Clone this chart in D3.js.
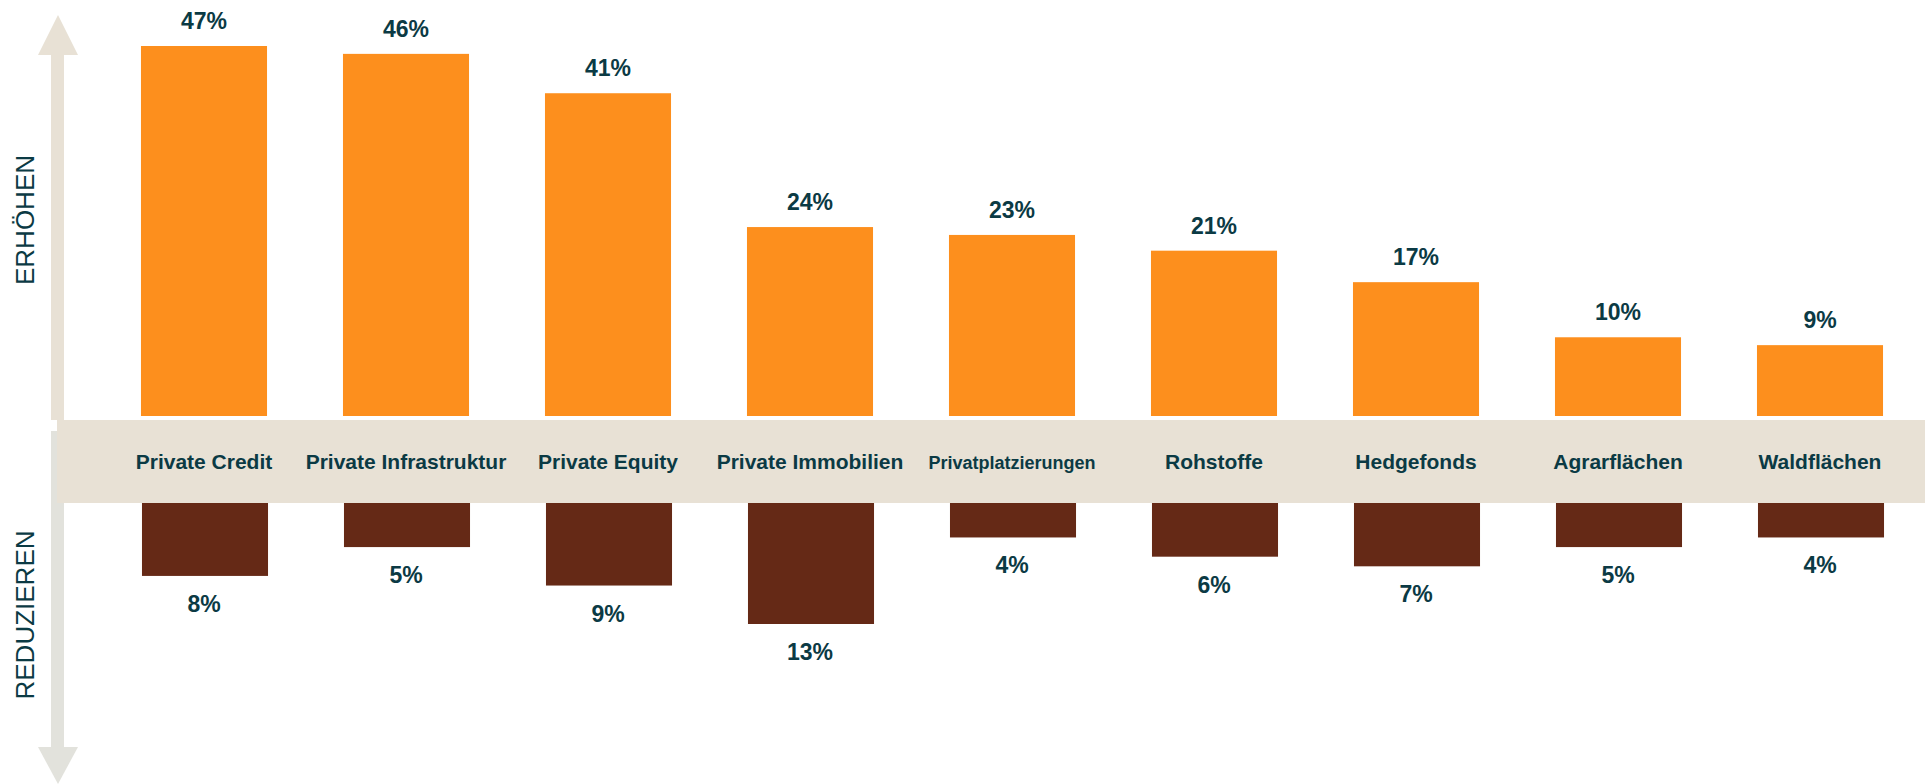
<!DOCTYPE html>
<html>
<head>
<meta charset="utf-8">
<script src="https://cdn.jsdelivr.net/npm/d3@7"></script>
<style>
  body { margin: 0; background: #ffffff; }
</style>
</head>
<body>
<div id="chart"></div>
<script>
// data
const categories = ["Private Credit", "Private Infrastruktur", "Private Equity", "Private Immobilien",
    "Privatplatzierungen", "Rohstoffe", "Hedgefonds", "Agrarflächen", "Waldflächen"];
const erhoehen = [47, 46, 41, 24, 23, 21, 17, 10, 9];
const reduzieren = [8, 5, 9, 13, 4, 6, 7, 5, 4];
const axisLabels = ["ERHÖHEN", "REDUZIEREN"];

const width = 1925, height = 784;
const font = "'Liberation Sans', Arial, Helvetica, sans-serif";
const textColor = "#0b3a44";

const data = categories.map(function(c, i) {
    return {name: c, up: erhoehen[i], down: reduzieren[i]};
});

const svg = d3.select("#chart")
    .append("svg")
        .attr("width", width)
        .attr("height", height);

// x positions of the bars
const xScale = d3.scaleBand()
    .domain(categories)
    .range([103, 1921])
    .paddingInner(0.376)
    .paddingOuter(0.188);

// the upper and lower halves use their own scales
const yUp = d3.scaleLinear().domain([0, 47]).range([416, 46]);
const yDown = d3.scaleLinear().domain([0, 13]).range([499, 624]);

// arrows on the left
svg.append("rect")
    .attr("x", 51).attr("y", 54)
    .attr("width", 13).attr("height", 366)
    .attr("fill", "#e8e1d5");
svg.append("path")
    .attr("d", "M38,55 L78,55 L58,15 Z")
    .attr("fill", "#e8e1d5");

svg.append("rect")
    .attr("x", 51).attr("y", 431)
    .attr("width", 13).attr("height", 317)
    .attr("fill", "#e2e2dc");
svg.append("path")
    .attr("d", "M38,747 L78,747 L58,784 Z")
    .attr("fill", "#e2e2dc");

// increase bars
svg.selectAll(".up")
    .data(data)
    .enter().append("rect")
        .attr("class", "up")
        .attr("x", function(d) { return xScale(d.name); })
        .attr("y", function(d) { return yUp(d.up); })
        .attr("width", xScale.bandwidth())
        .attr("height", function(d) { return yUp(0) - yUp(d.up); })
        .attr("fill", "#fd8f1d");

// reduce bars (start under the band)
svg.selectAll(".down")
    .data(data)
    .enter().append("rect")
        .attr("class", "down")
        .attr("x", function(d) { return xScale(d.name) + 1; })
        .attr("y", yDown(0))
        .attr("width", xScale.bandwidth())
        .attr("height", function(d) { return yDown(d.down) - yDown(0); })
        .attr("fill", "#652916");

// beige band holding the category names
svg.append("rect")
    .attr("x", 57).attr("y", 420)
    .attr("width", width - 57).attr("height", 83)
    .attr("fill", "#e8e1d5");

svg.selectAll(".cat")
    .data(data)
    .enter().append("text")
        .attr("class", "cat")
        .attr("x", function(d) { return xScale(d.name) + xScale.bandwidth() / 2; })
        .attr("y", 469)
        .attr("text-anchor", "middle")
        .attr("font-family", font)
        .attr("font-weight", "bold")
        // the long one-word label is set smaller so it fits
        .attr("font-size", function(d) { return d.name.length >= 19 && d.name.indexOf(" ") < 0 ? "18px" : "21px"; })
        .attr("fill", textColor)
        .text(function(d) { return d.name; });

// value labels
svg.selectAll(".upLabel")
    .data(data)
    .enter().append("text")
        .attr("class", "upLabel")
        .attr("x", function(d) { return xScale(d.name) + xScale.bandwidth() / 2; })
        .attr("y", function(d) { return yUp(d.up) - 17; })
        .attr("text-anchor", "middle")
        .attr("font-family", font)
        .attr("font-weight", "bold")
        .attr("font-size", "23px")
        .attr("fill", textColor)
        .text(function(d) { return d.up + "%"; });

svg.selectAll(".downLabel")
    .data(data)
    .enter().append("text")
        .attr("class", "downLabel")
        .attr("x", function(d) { return xScale(d.name) + xScale.bandwidth() / 2; })
        .attr("y", function(d) { return yDown(d.down) + 36; })
        .attr("text-anchor", "middle")
        .attr("font-family", font)
        .attr("font-weight", "bold")
        .attr("font-size", "23px")
        .attr("fill", textColor)
        .text(function(d) { return d.down + "%"; });

// rotated side labels
svg.append("text")
    .attr("transform", "translate(34,220) rotate(-90)")
    .attr("text-anchor", "middle")
    .attr("font-family", font)
    .attr("font-size", "26px")
    .attr("fill", textColor)
    .text(axisLabels[0]);

svg.append("text")
    .attr("transform", "translate(34,615) rotate(-90)")
    .attr("text-anchor", "middle")
    .attr("font-family", font)
    .attr("font-size", "26px")
    .attr("fill", textColor)
    .text(axisLabels[1]);
</script>
</body>
</html>
